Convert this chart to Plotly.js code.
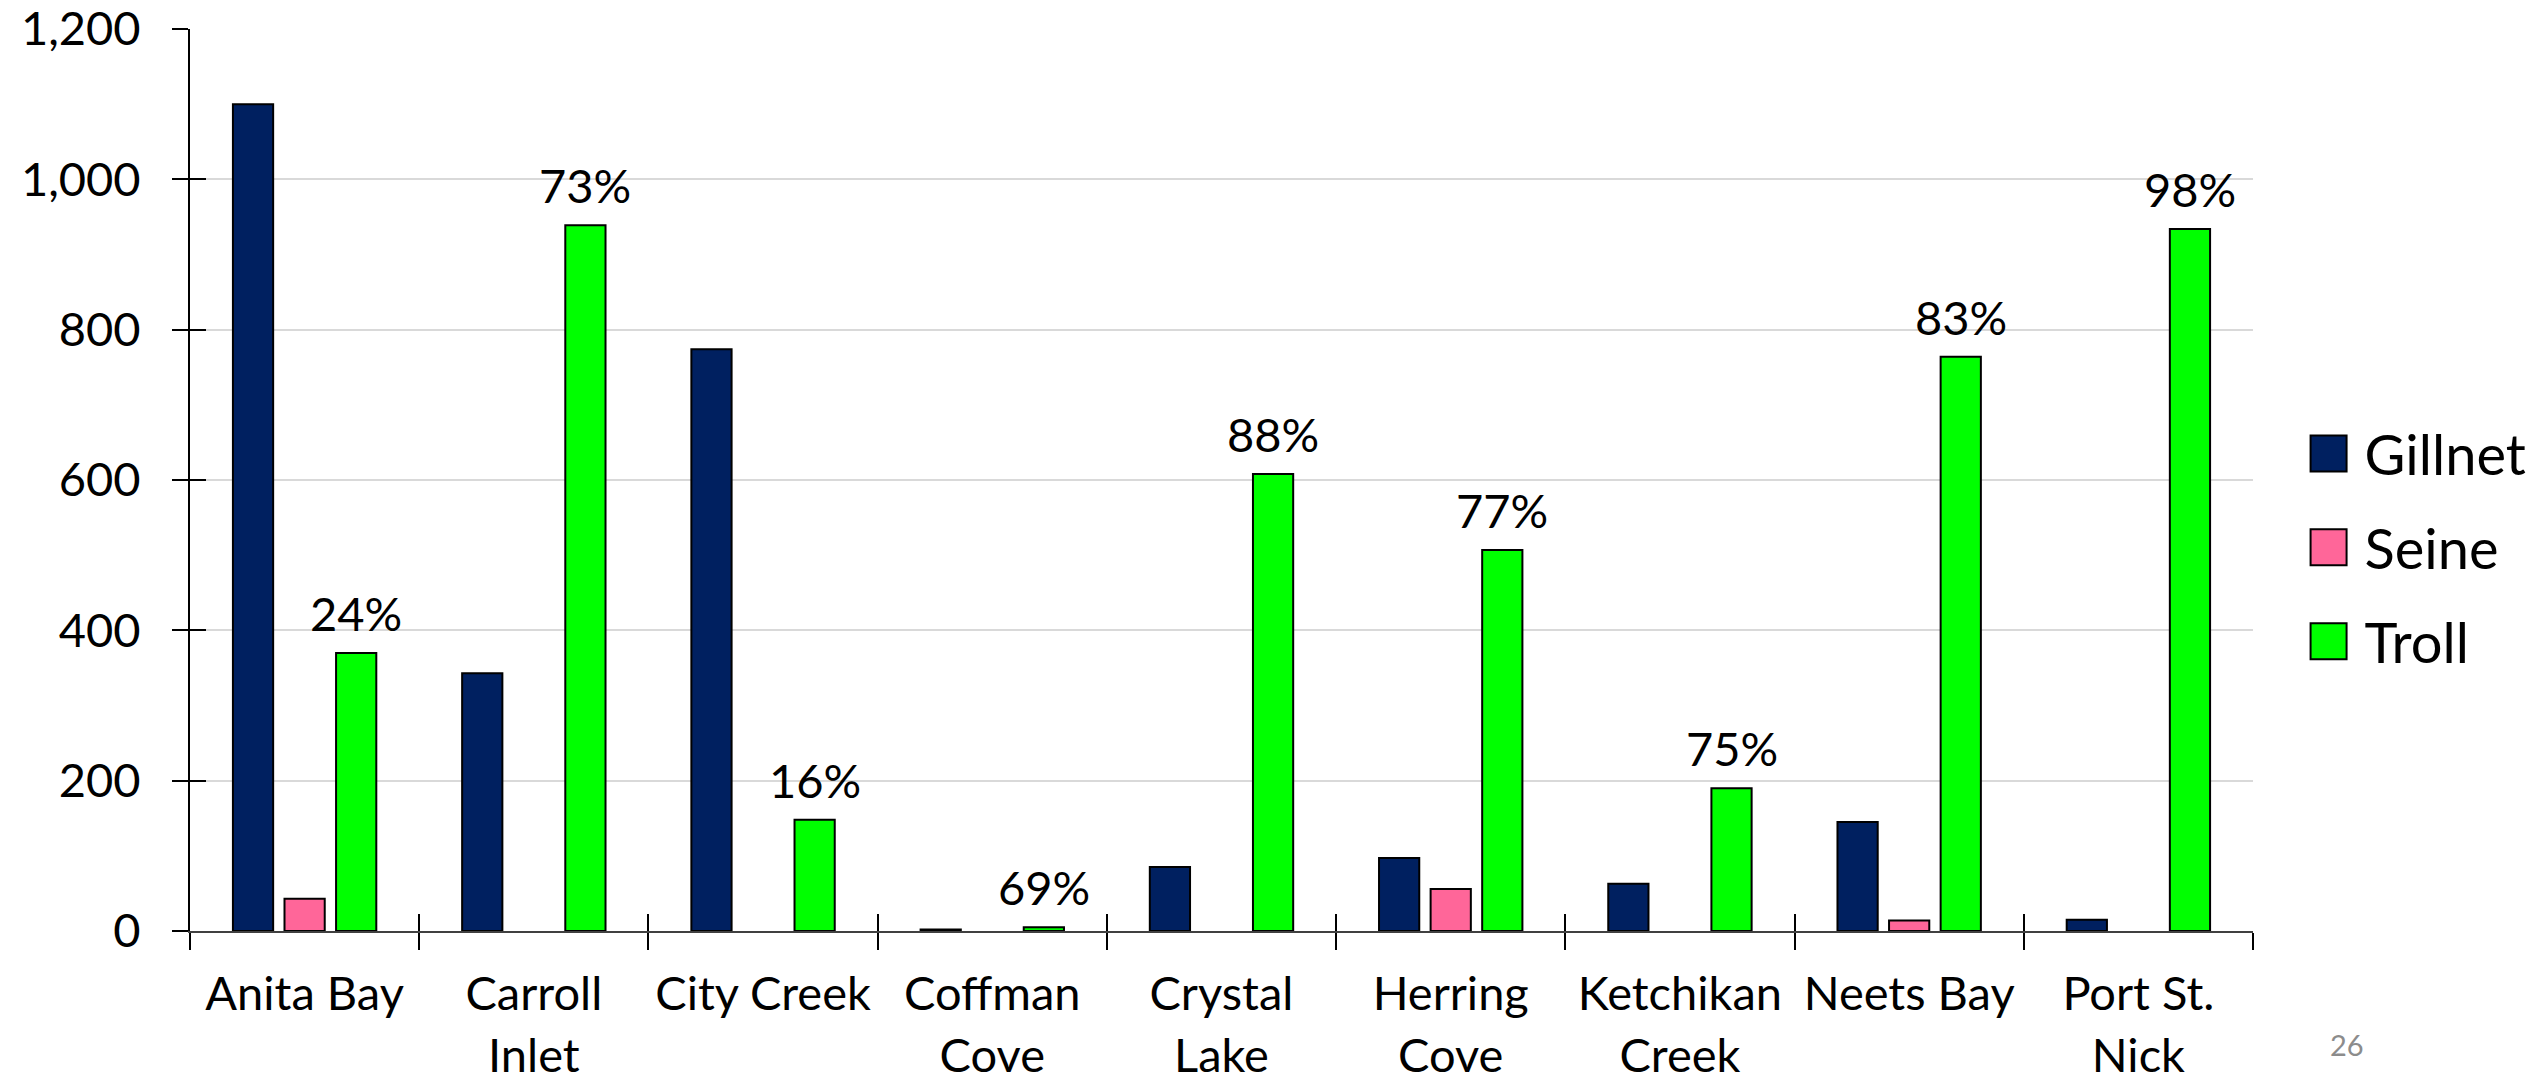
<!DOCTYPE html>
<html>
<head>
<meta charset="utf-8">
<script src="https://cdn.plot.ly/plotly-3.0.1.min.js"></script>
<style>html,body{margin:0;padding:0;background:#fff;}#chart{width:2544px;height:1086px;}</style>
</head>
<body>
<div id="chart"></div>
<script>
const categories = ["Anita Bay","Carroll<br>Inlet","City Creek","Coffman<br>Cove","Crystal<br>Lake","Herring<br>Cove","Ketchikan<br>Creek","Neets Bay","Port St.<br>Nick"];
const gillnet = [1100, 343, 774, 2, 85, 97, 63, 145, 15];
const seine   = [43, null, null, null, null, 56, null, 14, null];
const troll   = [370, 939, 148, 5, 608, 507, 190, 764, 934];
const trollShare = ["24%","73%","16%","69%","88%","77%","75%","83%","98%"];
const yTicks = [0, 200, 400, 600, 800, 1000, 1200];

const FONT = "Lato, 'Open Sans', sans-serif";
const bargap = 0.325;
const slot = (1 - bargap) / 3;

function barTrace(name, y, color) {
  return {
    type: "bar", name: name, x: categories, y: y, legendgroup: name,
    marker: {color: color, line: {color: "#000", width: 2}},
    hoverinfo: "skip"
  };
}

const data = [
  barTrace("Gillnet", gillnet, "#002060"),
  barTrace("Seine", seine, "#FF6699"),
  barTrace("Troll", troll, "#00FF00"),
  // empty carrier so the overlay axes (inner half of the crossing ticks) are drawn
  {type: "scatter", mode: "markers", x: [], y: [], xaxis: "x2", yaxis: "y2", showlegend: false, hoverinfo: "skip"}
];

const annotations = trollShare.map((t, i) => ({
  x: i + slot, y: troll[i], xref: "x", yref: "y", text: t, showarrow: false,
  yanchor: "middle", yshift: 40, font: {family: FONT, size: 47, color: "#000"}
}));
annotations.push({
  x: 1.055, y: -0.148, xref: "paper", yref: "paper", text: "26", showarrow: false,
  font: {family: FONT, size: 29, color: "#8c8c8c"}
});

const layout = {
  width: 2544, height: 1086,
  margin: {l: 190, r: 289, t: 29, b: 155},
  paper_bgcolor: "#fff", plot_bgcolor: "#fff",
  font: {family: FONT, size: 46, color: "#000"},
  barmode: "group", bargap: bargap, bargroupgap: 0.22,
  showlegend: true,
  legend: {
    x: 1.025, xanchor: "left", y: 0.425, yanchor: "middle",
    font: {family: FONT, size: 56, color: "#000"},
    itemwidth: 50, tracegroupgap: 18, bgcolor: "rgba(0,0,0,0)"
  },
  xaxis: {
    type: "category", tickson: "boundaries", ticks: "outside", ticklen: 17, tickwidth: 2, tickcolor: "#000",
    showline: true, linecolor: "#404040", linewidth: 2, showgrid: false, zeroline: false, tickangle: 0,
    ticklabelstandoff: 21, tickfont: {family: FONT, size: 47, color: "#000"}
  },
  yaxis: {
    range: [0, 1200], tickvals: yTicks, tickformat: ",d", ticks: "outside", ticklen: 16, tickwidth: 2, tickcolor: "#000",
    showline: true, linecolor: "#000", linewidth: 2, showgrid: true, gridcolor: "#d9d9d9", gridwidth: 2,
    zeroline: false, ticklabelstandoff: 22, ticklabeloverflow: "allow", tickfont: {family: FONT, size: 47, color: "#000"}
  },
  xaxis2: {
    overlaying: "x", anchor: "y2", range: [-0.5, 8.5], tick0: -0.5, dtick: 1, ticks: "inside", ticklen: 17,
    tickwidth: 2, tickcolor: "#000", showticklabels: false, showgrid: false, zeroline: false, showline: false
  },
  yaxis2: {
    overlaying: "y", anchor: "x2", side: "left", range: [0, 1200], tickvals: yTicks, ticks: "inside", ticklen: 16,
    tickwidth: 2, tickcolor: "#000", showticklabels: false, showgrid: false, zeroline: false, showline: false
  },
  annotations: annotations
};

function bigLegendIcons() {
  document.querySelectorAll("#chart .legend .legendpoints path").forEach(p => {
    p.setAttribute("d", "M18,18H-18V-18H18Z");
    p.setAttribute("transform", "translate(24,0)");
  });
}

Plotly.newPlot("chart", data, layout, {staticPlot: true, displayModeBar: false}).then(gd => {
  bigLegendIcons();
  if (gd.on) gd.on("plotly_afterplot", bigLegendIcons);
  setTimeout(bigLegendIcons, 50);
  setTimeout(bigLegendIcons, 300);
});
</script>
</body>
</html>
